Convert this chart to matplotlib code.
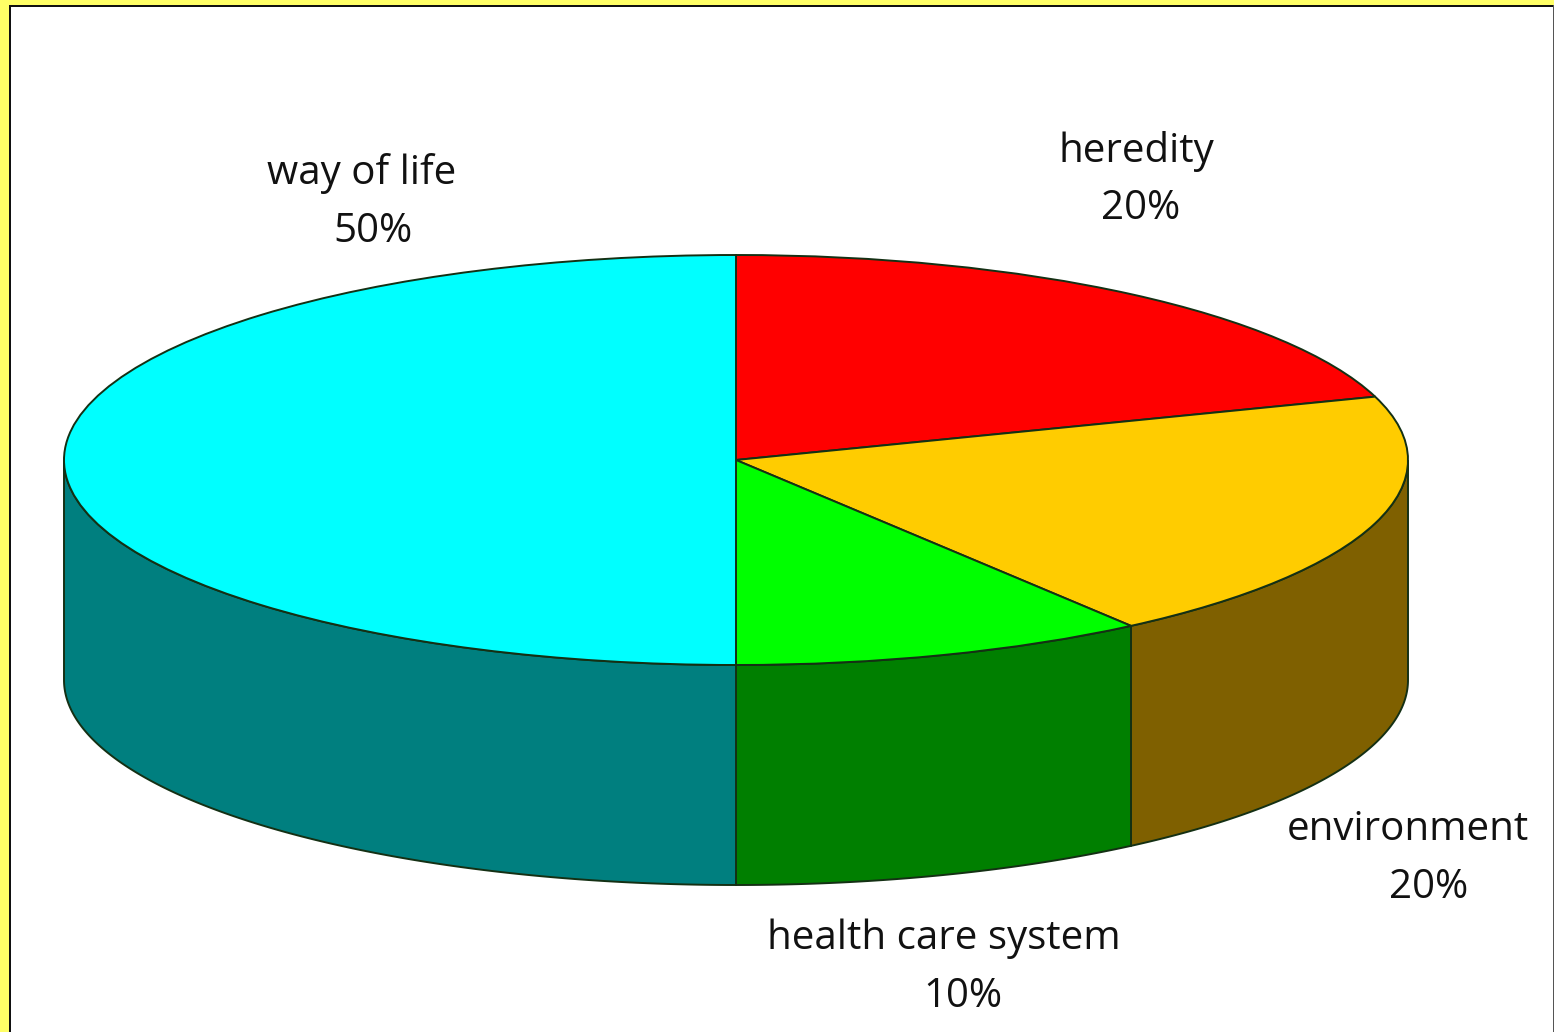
import numpy as np
import matplotlib
matplotlib.use("Agg")
from matplotlib import pyplot as plt
from matplotlib.patches import Rectangle

W, H = 1554, 1032

categories = ["heredity", "environment", "health care system", "way of life"]
shares = [20, 20, 10, 50]
top_colors = ["#FF0000", "#FFCC00", "#00FF00", "#00FFFF"]
side_colors = ["#7F0000", "#7F6000", "#007F00", "#007F7F"]
edge_color = "#143014"

# pie centre, radii and wall height in pixels
cx, cy = 736, 460
rx, ry = 672, 205
depth = 220

label_x = [1136, 1408, 944, 362]
label_y = [152, 830, 939, 174]
percent_x = [1141, 1429, 963, 373]
percent_y = [209, 888, 997, 232]

fig = plt.figure(figsize=(W / 100, H / 100), dpi=100, facecolor="white")
plt.rcParams["font.family"] = ["Open Sans", "DejaVu Sans"]

# one data unit is rx pixels across and ry pixels down, so ax.pie gives an ellipse
ax = fig.add_axes([0, 0, 1, 1])
ax.pie(shares, colors=top_colors, startangle=90, counterclock=False, radius=1,
       wedgeprops={"edgecolor": edge_color, "linewidth": 1.4, "zorder": 3})
ax.set_aspect("auto")
ax.set_xlim(-cx / rx, (W - cx) / rx)
ax.set_ylim((cy - H) / ry, cy / ry)
ax.axis("off")

# walls: only the part of each slice on the front half of the rim
drop = depth / ry
ends = np.cumsum(shares) / np.sum(shares) * 360
starts = np.r_[0, ends[:-1]]
for a, b, c in zip(starts, ends, side_colors):
    a, b = max(a, 90), min(b, 270)
    if b <= a:
        continue
    t = np.radians(np.linspace(a, b, 200))
    x = np.sin(t)
    y = np.cos(t)
    ax.fill(np.r_[x, x[::-1]], np.r_[y, y[::-1] - drop], facecolor=c,
            edgecolor=edge_color, linewidth=1.4, zorder=2)


def px_text(x, y, s):
    fig.text(x / W, 1 - y / H, s, fontsize=29, color="#111111", ha="center", va="center")


for i, name in enumerate(categories):
    px_text(label_x[i], label_y[i], name)
    px_text(percent_x[i], percent_y[i], "%d%%" % shares[i])

# yellow frame with the thin black line inside it
fig.add_artist(Rectangle((0, 0), 9 / W, 1, transform=fig.transFigure, facecolor="#FFFF66", edgecolor="none"))
fig.add_artist(Rectangle((0, 1 - 5 / H), 1, 5 / H, transform=fig.transFigure, facecolor="#FFFF66", edgecolor="none"))
fig.add_artist(Rectangle((9 / W, 0), 2 / W, 1 - 5 / H, transform=fig.transFigure, facecolor="#111111", edgecolor="none"))
fig.add_artist(Rectangle((9 / W, 1 - 7 / H), 1 - 9 / W, 2 / H, transform=fig.transFigure, facecolor="#111111", edgecolor="none"))
fig.add_artist(Rectangle((1 - 1.5 / W, 0), 1.5 / W, 1 - 5 / H, transform=fig.transFigure, facecolor="#555555", edgecolor="none"))

fig.savefig("out.png", dpi=100)
